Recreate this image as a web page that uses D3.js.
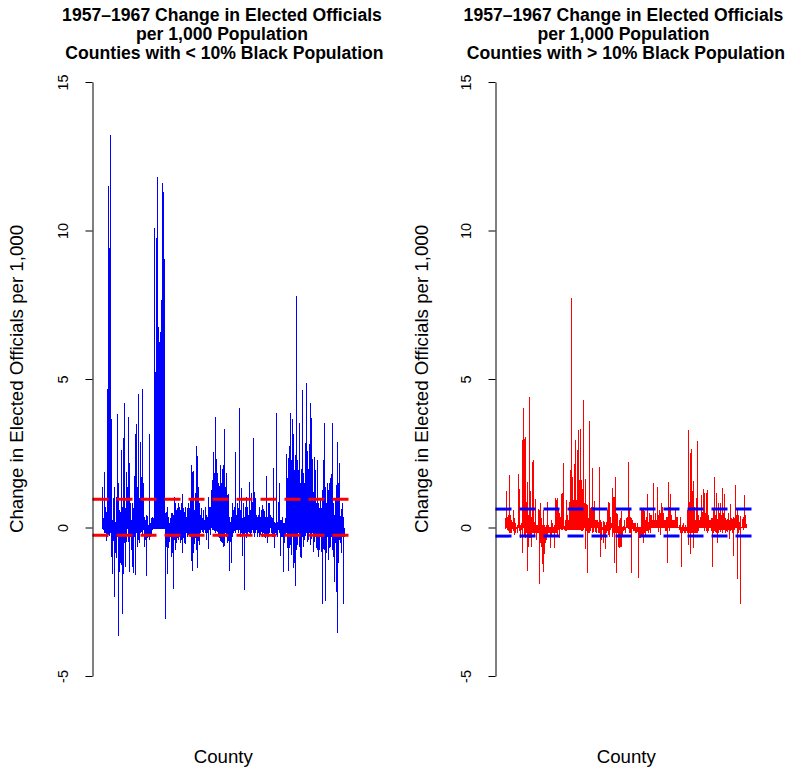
<!DOCTYPE html>
<html>
<head>
<meta charset="utf-8">
<script src="https://cdn.jsdelivr.net/npm/d3@7"></script>
<style>
  html, body { margin: 0; padding: 0; background: #ffffff; }
  svg { display: block; font-family: "Liberation Sans", Arial, Helvetica, sans-serif; }
</style>
</head>
<body>
<svg id="chart" width="787" height="770"></svg>
<script>
// Change in elected officials per 1,000 population, 1957-1967, one value per county (in county order)
const lowShareChange = [
  1.37,-0.05, 0.31,-0.08, 1.88,-0.2, 0.7,-0.2, 0.53,-0.45, 4.66,-0.31, 11.5,-0.25, 9.4,-0.3, 13.2,-0.2, 3.64,-1.0,
  0.25,-1.57, 1.0,-0.44, 1.37,-2.35, 0.2,-0.87, 1.04,-1.04, 3.81,-0.31, 1.49,-3.64, 0.59,-1.49, 0.53,-1.21, 2.61,-1.26,
  0.7,-2.91, 3.0,-1.57, 4.18,-0.53, 0.65,-1.32, 1.88,-0.48, 1.37,-0.05, 3.73,-0.48, 2.16,-1.51, 0.81,-0.31, 0.25,-0.76,
  0.81,-1.32, 0.65,-1.54, 1.73,-0.31, 3.14,-1.6, 3.47,-0.2, 1.37,-0.65, 4.5,-0.42, 0.98,-0.53, 2.87,-0.2, 1.71,-0.16,
  4.66,-0.25, 1.49,-0.08, 0.36,-0.67, 0.25,-0.42, 0.42,-1.62, 0.39,-0.36, 0.08,-0.31, 3.14,-0.42, 0.14,-0.31, 0.31,-0.22,
  0.36,-0.08, 0.31,-0.05, 10.1,-0.05, 5.22,-0.05, 9.74,-0.05, 11.8,-0.05, 6.74,-0.05, 6.26,-0.05, 6.58,-0.05, 7.66,-0.05,
  11.6,-0.05, 11.3,-0.05, 9.03,-0.05, 0.48,-3.09, 0.53,-0.65, 0.7,-1.58, 0.36,-0.7, 0.14,-0.48, 0.31,-0.31, 0.48,-0.98,
  0.48,-0.87, 0.42,-2.08, 1.04,-0.42, 0.81,-0.76, 0.59,-0.53, 0.65,-0.36, 0.81,-0.42, 0.7,-0.31,
  0.59,-0.53, 0.81,-0.42, 1.13,-0.85, 0.65,-0.36, 0.53,-0.53, 0.7,-0.56, 0.36,-0.2, 0.65,-0.31, 0.81,-0.25, 0.65,-0.28,
  0.93,-0.31, 2.1,-1.12, 1.88,-1.46, 1.91,-0.85, 0.59,-0.56, 1.15,-0.36, 2.74,-0.76, 2.41,-1.35, 1.37,-0.44, 0.81,-0.59,
  0.42,-0.2, 0.65,-0.08, 0.31,-0.15, 0.59,-0.2, 0.25,-0.1, 0.68,-0.17, 0.42,-0.42, 0.36,-0.17, 1.02,-0.74, 0.7,-0.1,
  0.7,-0.25, 1.26,-0.03, 1.6,-0.1, 2.53,-0.08, 1.82,-0.12, 3.72,-0.2, 2.31,-0.12, 1.85,-0.14, 1.49,-0.31, 1.4,-0.34,
  2.1,-0.44, 1.49,-0.48, 1.98,-0.53, 1.87,-0.65, 2.1,-0.62, 3.3,-0.2, 1.37,-0.31, 1.82,-0.53, 1.09,-0.44, 1.12,-1.46,
  0.36,-0.48, 0.2,-1.18, 0.34,-0.31, 0.81,-0.2, 0.59,-0.11, 0.7,-0.2, 2.54,-0.08, 0.42,-0.08, 0.81,-0.2, 0.65,-0.08,
  4.01,-0.31, 0.59,-0.2, 1.32,-0.96, 0.31,-0.22, 0.81,-2.1, 0.36,-0.2, 0.7,-0.36, 1.04,-0.25, 0.7,-0.14, 0.42,-0.2,
  1.54,-0.25, 0.59,-0.2, 1.15,-0.08, 0.87,-0.2, 3.0,-0.31, 1.2,-0.2, 0.98,-0.08, 0.42,-0.31, 0.36,-0.2, 0.42,-0.31,
  0.7,-0.25, 0.36,-0.14, 0.59,-0.31, 0.76,-0.2,
  0.61,-0.31, 0.57,-0.36, 0.36,-0.25, 1.73,-0.51, 0.36,-0.31, 0.81,-0.2, 0.84,-0.03, 0.42,-0.2, 0.36,-0.31, 0.31,-0.31,
  2.0,-0.7, 0.2,-0.2, 0.14,-0.25, 3.84,-0.31, 0.2,-0.08, 0.87,-0.2, 1.49,-0.96, 0.25,-0.31, 0.25,-0.31, 0.36,-1.49,
  0.14,-0.53, 0.14,-0.25, 0.31,-0.2, 2.47,-0.7, 1.66,-1.46, 2.33,-0.7, 2.74,-0.59, 3.87,-0.93, 2.27,-0.31, 3.66,-1.37,
  3.15,-1.21, 1.94,-1.97, 2.44,-0.76, 7.79,-0.59, 2.27,-0.2, 1.94,-0.65, 3.51,-0.98, 1.49,-1.04, 1.96,-0.31, 4.63,-0.65,
  1.82,-0.42, 1.49,-0.29, 2.83,-0.2, 4.88,-0.48, 2.58,-0.42, 1.96,-0.2, 2.81,-0.59, 4.18,-0.4, 3.7,-0.2, 2.3,-0.81,
  1.21,-0.48, 2.38,-0.31, 1.94,-0.7, 0.81,-0.76, 2.27,-0.98, 0.81,-0.76, 0.65,-0.31, 0.93,-0.81, 0.65,-2.59, 1.26,-0.74,
  2.27,-0.76, 3.51,-2.47, 1.37,-0.87, 0.81,-0.31, 1.49,-1.09, 1.26,-0.7, 1.49,-0.65, 1.66,-0.31, 1.8,-0.76, 3.51,-0.98,
  0.81,-1.82, 0.42,-0.53, 0.98,-2.16, 1.43,-3.54, 2.88,-1.21, 1.51,-0.42, 2.16,-0.53, 0.4,-0.87, 0.61,-0.31, 0.81,-2.59,
  0.36,-0.31
];

const highShareChange = [
  0.31,-0.06, 1.23,-0.03, 0.36,-0.08, 0.42,-0.11, 1.77,-0.17, 0.41,-0.2, 0.25,-0.2, 0.2,-0.06, 0.59,-0.11, 0.31,-0.26,
  0.14,-0.2, 0.03,-0.06, 0.08,-0.17, 1.8,-0.03, 1.29,-0.11, 0.08,-0.36, 0.14,-0.08, 2.95,-0.85, 4.03,-0.03, 2.97,-0.31,
  3.06,-0.36, 0.87,-0.2, 1.54,-1.45, 0.42,-0.65, 4.38,-0.36, 1.24,-0.36, 0.36,-0.65, 2.2,-0.2, 2.26,-0.2, 0.2,-0.31,
  0.95,-0.2, 0.08,-0.42, 0.08,-0.2, 0.61,-0.2, 0.59,-1.91, 0.81,-0.53, 0.31,-0.65, 0.08,-1.23, 0.59,-1.49, 0.08,-0.89,
  0.03,-0.53, 0.08,-0.42, 0.85,-0.31, 0.08,-0.2, 0.03,-0.2, 0.03,-0.7, 0.25,-0.31, 0.14,-0.2, 0.03,-0.2, 0.08,-0.7,
  0.98,-0.2, 0.93,-0.2, 0.98,-0.31, 0.59,-0.08, 0.48,-0.36, 0.36,-0.06, 1.12,-0.08, 1.15,-0.08, 2.18,-0.06, 0.05,-0.08,
  0.25,-0.11, 0.93,-0.11, 0.42,-0.08, 0.25,-0.08, 0.87,-0.08, 1.94,-0.08, 7.72,-0.08, 1.71,-0.08, 0.93,-0.1, 2.13,-0.1,
  2.95,-0.1, 0.93,-0.1, 2.61,-0.1, 3.28,-0.1, 1.6,-0.1, 3.31,-0.1, 1.6,-0.11, 1.29,-0.11, 4.29,-0.1,
  0.84,-0.03, 1.63,-0.74, 0.79,-0.11, 0.75,-1.54, 0.31,-0.2, 3.59,-0.2, 0.65,-0.11, 0.7,-0.03, 2.01,-0.17, 0.7,-0.14,
  0.89,-0.03, 0.25,-0.14, 0.25,-0.2, 0.25,-0.03, 0.2,-0.2, 2.03,-0.2, 0.25,-0.98, 0.2,-0.42, 0.03,-0.08, 0.23,-0.53,
  0.2,-0.31, 0.08,-0.74, 0.2,-0.2, 0.59,-0.11, 0.87,-0.25, 0.84,-0.31, 0.36,-0.08, 0.14,-0.03, 1.32,-0.31, 1.04,-0.2,
  1.04,-1.21, 1.69,-0.2, 0.48,-1.52, 0.45,-0.2, 0.05,-0.65, 0.25,-0.7, 0.31,-0.65, 0.57,-0.65, 0.03,-0.31, 0.05,-0.11,
  0.25,-0.08, 0.03,-0.17, 0.31,-0.03, 0.34,-0.06, 2.2,-0.2, 0.59,-0.2, 0.36,-1.52, 0.31,-0.06, 0.25,-0.11, 0.14,-0.11,
  0.14,-0.2, 0.14,-0.2, 0.03,-0.14, 0.14,-1.69, 0.03,-0.36, 0.03,-0.36, 0.03,-0.31, 0.59,-0.31, 0.59,-0.53, 0.59,-0.2,
  0.57,-0.31, 0.25,-0.11, 0.36,-0.11, 1.12,-0.2, 0.2,-0.08, 0.48,-0.2, 0.42,-0.03, 0.41,-0.03, 0.25,-0.02, 1.51,-0.03,
  0.25,-0.03, 0.48,-0.03, 0.25,-0.02, 1.35,-0.14, 0.42,-0.03, 0.59,-0.25, 0.48,-0.03, 0.84,-0.03, 0.7,-0.03, 0.48,-0.02,
  0.25,-0.11, 0.25,-0.11, 0.36,-1.18, 0.34,-0.03, 1.53,-0.11, 0.7,-0.03, 1.13,-0.02, 0.42,-0.03, 0.25,-0.03, 0.25,-0.03,
  0.25,-0.02, 0.59,-0.03, 0.34,-0.03, 0.34,-0.03, 0.03,-0.08, 0.08,-0.2, 0.34,-1.32, 0.03,-0.2, 0.08,-0.11, 0.14,-0.2,
  0.03,-0.2, 0.08,-0.11, 0.03,-0.17, 0.59,-0.59, 3.28,-0.2, 0.87,-0.9, 2.52,-0.2, 2.64,-0.2, 1.23,-0.7, 1.58,-0.2,
  0.7,-0.2, 0.25,-0.2, 1.0,-0.2, 2.9,-0.11, 0.42,-0.03, 0.25,-0.03, 0.36,-0.03, 1.09,-0.03, 0.51,-0.03, 1.29,-0.11,
  1.17,-0.03, 0.48,-0.11, 1.17,-0.2, 1.26,-0.11, 0.42,-0.03, 0.25,-0.03, 0.25,-0.11, 0.31,-1.34, 0.31,-0.2, 0.59,-0.11,
  1.69,-0.14, 0.42,-0.2, 1.15,-0.53, 0.28,-0.2, 0.84,-0.08, 0.48,-0.14, 0.84,-0.08, 0.42,-0.2, 1.32,-0.08, 0.48,-0.08,
  1.13,-0.2, 0.31,-0.11, 0.25,-0.14, 0.28,-0.08, 0.48,-0.4, 0.25,-0.11, 0.79,-0.08, 0.31,-0.2, 0.28,-0.96, 0.34,-0.08,
  0.31,-0.03, 1.43,-0.03, 0.42,-1.73, 0.59,-0.2, 0.42,-0.08, 0.2,-2.58, 0.39,-0.03, 0.03,-0.03, 0.28,-0.08, 0.34,-0.03,
  1.09,-0.03, 0.42,-0.03, 0.11,-0.03
];

// Horizontal reference levels drawn across each panel
const lowShareRefLines = [0.95, -0.26];
const highShareRefLines = [0.62, -0.29];

// Axis ticks and text
const yTickValues = [-5, 0, 5, 10, 15];
const titleLines = ["1957\u20131967 Change in Elected Officials", "per 1,000 Population"];
const panelSubtitles = [" Counties with < 10% Black Population", " Counties with > 10% Black Population"];
const yAxisLabel = "Change in Elected Officials per 1,000";
const xAxisLabel = "County";

const svg = d3.select("#chart");

// Shared vertical scale; the plot region extends 4% beyond the -5..15 range
const y = d3.scaleLinear().domain([-5, 15]).range([676, 82]);

const panels = [
  { values: lowShareChange, left: 92.5, right: 354, barColor: "#0000ff", refColor: "#ff0000",
    refs: lowShareRefLines, subtitle: panelSubtitles[0], titleX: 222, yLabelX: 23 },
  { values: highShareChange, left: 495.5, right: 757, barColor: "#ff0000", refColor: "#0000ff",
    refs: highShareRefLines, subtitle: panelSubtitles[1], titleX: 623.5, yLabelX: 428 }
];

panels.forEach(p => {
  const n = p.values.length;
  const pad = 0.04 * (n - 1);
  const x = d3.scaleLinear().domain([1 - pad, n + pad]).range([p.left, p.right]);
  const g = svg.append("g");

  // vertical "h"-type lines from zero to each county's value
  g.append("g")
    .selectAll("line")
    .data(p.values)
    .join("line")
    .attr("x1", (d, i) => x(i + 1))
    .attr("x2", (d, i) => x(i + 1))
    .attr("y1", y(0))
    .attr("y2", d => y(d))
    .attr("stroke", p.barColor)
    .attr("stroke-width", 1)
    .attr("shape-rendering", "crispEdges");

  // dashed reference levels
  g.append("g")
    .selectAll("line")
    .data(p.refs)
    .join("line")
    .attr("x1", p.left)
    .attr("x2", p.right)
    .attr("y1", d => y(d))
    .attr("y2", d => y(d))
    .attr("stroke", p.refColor)
    .attr("stroke-width", 3)
    .attr("stroke-dasharray", "16,8");

  // y axis with labels parallel to the axis
  const axis = d3.axisLeft(y)
    .tickValues(yTickValues)
    .tickSize(7)
    .tickSizeOuter(0)
    .tickPadding(0)
    .tickFormat(d => String(d));

  g.append("g")
    .attr("transform", `translate(${p.left},0)`)
    .call(axis)
    .call(a => a.attr("font-family", null).attr("font-size", null))
    .call(a => a.select(".domain").attr("stroke", "#000").attr("stroke-width", 1))
    .call(a => a.selectAll(".tick line").attr("stroke", "#000"))
    .call(a => a.selectAll(".tick text")
      .attr("x", null)
      .attr("dy", null)
      .attr("text-anchor", "middle")
      .attr("transform", "translate(-24.3,0) rotate(-90)")
      .attr("fill", "#000")
      .style("font-size", "14.4px"));

  // three-line bold title
  const title = g.append("text")
    .attr("text-anchor", "middle")
    .attr("font-weight", "bold")
    .style("font-size", "17.6px")
    .style("white-space", "pre")
    .attr("fill", "#000");
  [...titleLines, p.subtitle].forEach((line, k) => {
    title.append("tspan")
      .attr("x", p.titleX)
      .attr("y", 21 + k * 19)
      .text(line);
  });

  // axis titles
  g.append("text")
    .attr("x", (p.left + p.right) / 2)
    .attr("y", 763)
    .attr("text-anchor", "middle")
    .style("font-size", "18.7px")
    .attr("fill", "#000")
    .text(xAxisLabel);

  g.append("text")
    .attr("transform", `translate(${p.yLabelX},${(y(15.8) + y(-5.8)) / 2}) rotate(-90)`)
    .attr("text-anchor", "middle")
    .style("font-size", "18.7px")
    .attr("fill", "#000")
    .text(yAxisLabel);
});
</script>
</body>
</html>
